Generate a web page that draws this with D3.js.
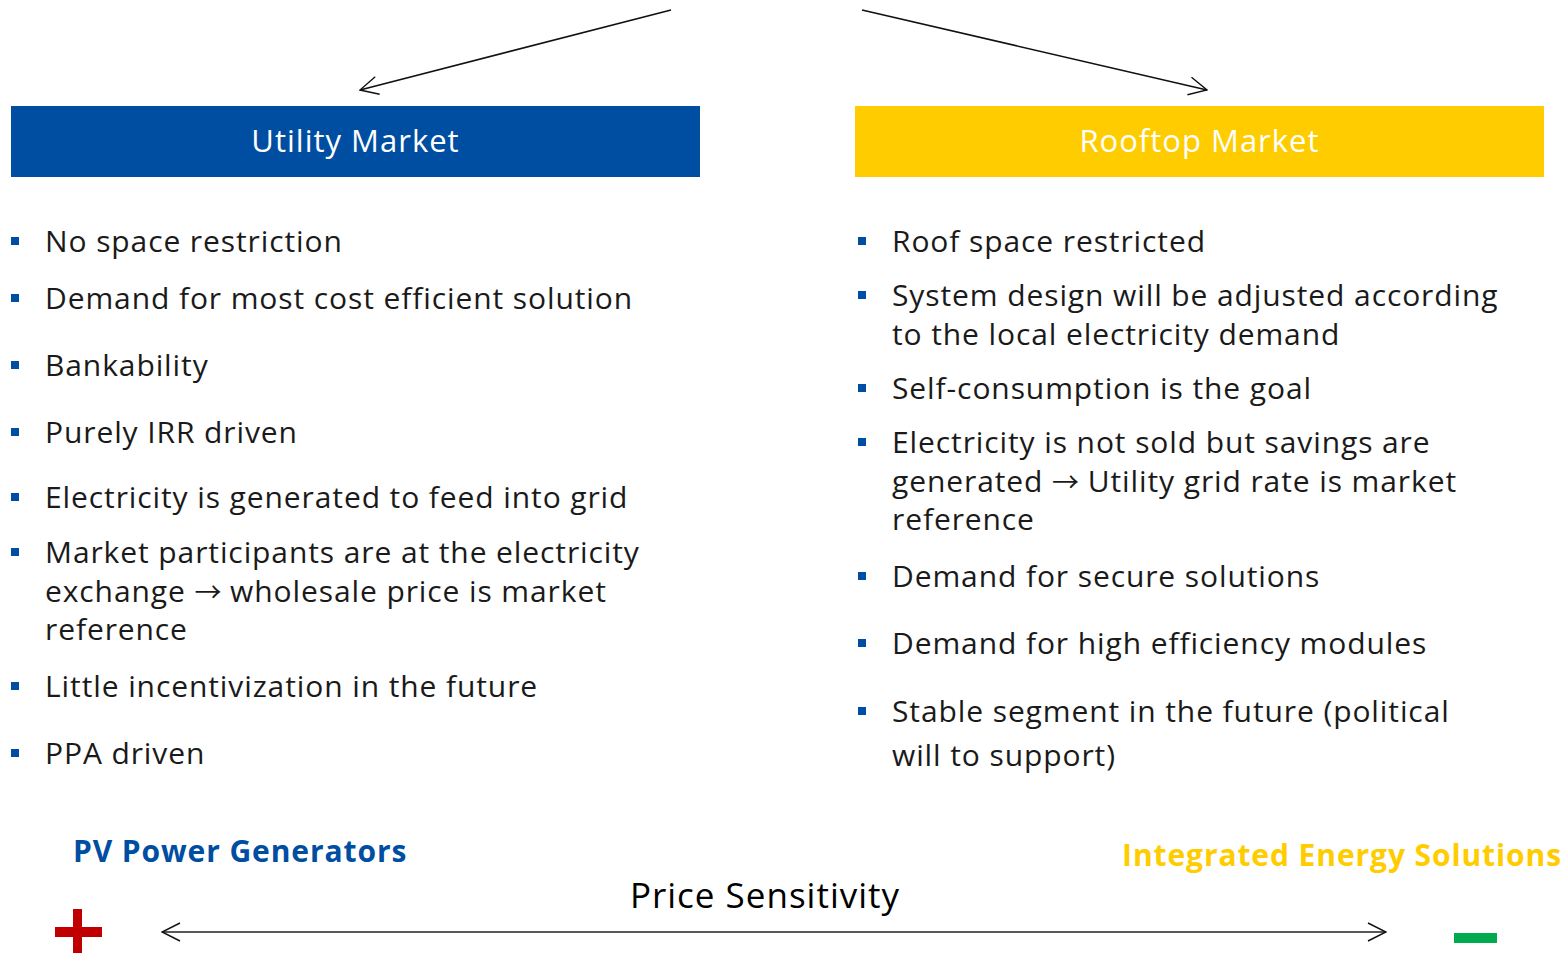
<!DOCTYPE html>
<html><head><meta charset="utf-8">
<script src="https://cdn.jsdelivr.net/npm/d3@7"></script>
<style>html,body{margin:0;padding:0;background:#fff;overflow:hidden}</style>
</head><body>
<svg id="c" width="1567" height="953"></svg>
<script>
// ---- data ----
const headers = ["Utility Market", "Rooftop Market"];
const utilityItems = [
  ["No space restriction"],
  ["Demand for most cost efficient solution"],
  ["Bankability"],
  ["Purely IRR driven"],
  ["Electricity is generated to feed into grid"],
  ["Market participants are at the electricity", "exchange \u2192 wholesale price is market", "reference"],
  ["Little incentivization in the future"],
  ["PPA driven"]
];
const rooftopItems = [
  ["Roof space restricted"],
  ["System design will be adjusted according", "to the local electricity demand"],
  ["Self-consumption is the goal"],
  ["Electricity is not sold but savings are", "generated \u2192 Utility grid rate is market", "reference"],
  ["Demand for secure solutions"],
  ["Demand for high efficiency modules"],
  ["Stable segment in the future (political", "will to support)"]
];
const endLabels = ["PV Power Generators", "Integrated Energy Solutions"];
const axisLabel = "Price Sensitivity";

// ---- layout (positions kept separate from data) ----
const utilityY = [241, 298, 365, 432, 497, 552, 686, 753];
const rooftopY = [241, 295, 388, 442, 576, 643, 711];
const rooftopGap = [0, 39, 0, 38.5, 0, 0, 44];
const utilityGap = [0, 0, 0, 0, 0, 38.5, 0, 0];

const BLUE = "#004EA2", YELLOW = "#FFCC00";
const FONT = "'Open Sans', 'Noto Sans', sans-serif";
const svg = d3.select("#c");

const defs = svg.append("defs");
defs.append("marker").attr("id","ah").attr("viewBox","0 0 20 20").attr("refX",19).attr("refY",10)
  .attr("markerWidth",20).attr("markerHeight",20).attr("markerUnits","userSpaceOnUse").attr("orient","auto-start-reverse")
  .append("path").attr("d","M1,1 L19,10 L1,19").attr("fill","none").attr("stroke","#111").attr("stroke-width",1.4);

// top arrows
svg.append("line").attr("x1",671).attr("y1",10).attr("x2",360).attr("y2",90)
  .attr("stroke","#111").attr("stroke-width",1.6).attr("marker-end","url(#ah)");
svg.append("line").attr("x1",862).attr("y1",10).attr("x2",1207).attr("y2",90)
  .attr("stroke","#111").attr("stroke-width",1.6).attr("marker-end","url(#ah)");

// header boxes
const cols = d3.scaleOrdinal().domain(headers).range([11, 855]);
const colColor = d3.scaleOrdinal().domain(headers).range([BLUE, YELLOW]);
const hdr = svg.selectAll("g.hdr").data(headers).join("g").attr("class","hdr");
hdr.append("rect").attr("x",d=>cols(d)).attr("y",106).attr("width",689).attr("height",71).attr("fill",d=>colColor(d));
hdr.append("text").attr("x",d=>cols(d)+344.5).attr("y",152).attr("text-anchor","middle")
  .attr("fill","#fff").attr("font-family",FONT).attr("font-size",31).attr("letter-spacing",1).text(d=>d);

function bullets(items, ys, gaps, bx, tx){
  const g = svg.append("g");
  const it = g.selectAll("g").data(items).join("g");
  it.append("rect").attr("x",bx).attr("y",(d,i)=>ys[i]-4).attr("width",8).attr("height",8).attr("fill",BLUE);
  const lines = it.selectAll("text").data((d,i)=>d.map((t,j)=>({t, y: ys[i]+11+j*gaps[i]}))).join("text")
    .attr("font-family",FONT).attr("font-size",30).attr("letter-spacing",0.9).attr("fill","#1a1a1a")
    .attr("x",tx).attr("y",d=>d.y);
  lines.each(function(d){
    const parts = d.t.split("\u2192");
    const sel = d3.select(this);
    parts.forEach((p,k)=>{
      if(k>0) sel.append("tspan").attr("font-family","'Noto Sans CJK JP', 'DejaVu Sans', sans-serif").attr("font-size",27).attr("letter-spacing",0).text("\u2192");
      sel.append("tspan").text(p);
    });
  });
}
bullets(utilityItems, utilityY, utilityGap, 11, 45);
bullets(rooftopItems, rooftopY, rooftopGap, 858, 892);

// bottom labels
svg.append("text").attr("x",73).attr("y",862).attr("font-family",FONT).attr("font-weight","bold")
  .attr("font-size",30).attr("letter-spacing",0.9).attr("fill",BLUE).text(endLabels[0]);
svg.append("text").attr("x",1562).attr("y",866).attr("text-anchor","end").attr("font-family",FONT).attr("font-weight","bold")
  .attr("font-size",30).attr("letter-spacing",0.9).attr("fill",YELLOW).text(endLabels[1]);
svg.append("text").attr("x",765).attr("y",908).attr("text-anchor","middle").attr("font-family",FONT)
  .attr("font-size",35).attr("letter-spacing",1).attr("fill","#000").text(axisLabel);

// double arrow
svg.append("line").attr("x1",162).attr("y1",932).attr("x2",1386).attr("y2",932)
  .attr("stroke","#222").attr("stroke-width",1.6)
  .attr("marker-start","url(#ah)").attr("marker-end","url(#ah)");

// plus / minus
svg.append("rect").attr("x",55).attr("y",927).attr("width",47).attr("height",10).attr("fill","#C00000");
svg.append("rect").attr("x",73).attr("y",909).attr("width",9).attr("height",44).attr("fill","#C00000");
svg.append("rect").attr("x",1454).attr("y",933).attr("width",43).attr("height",10).attr("fill","#00AA4F");
</script>
</body></html>
